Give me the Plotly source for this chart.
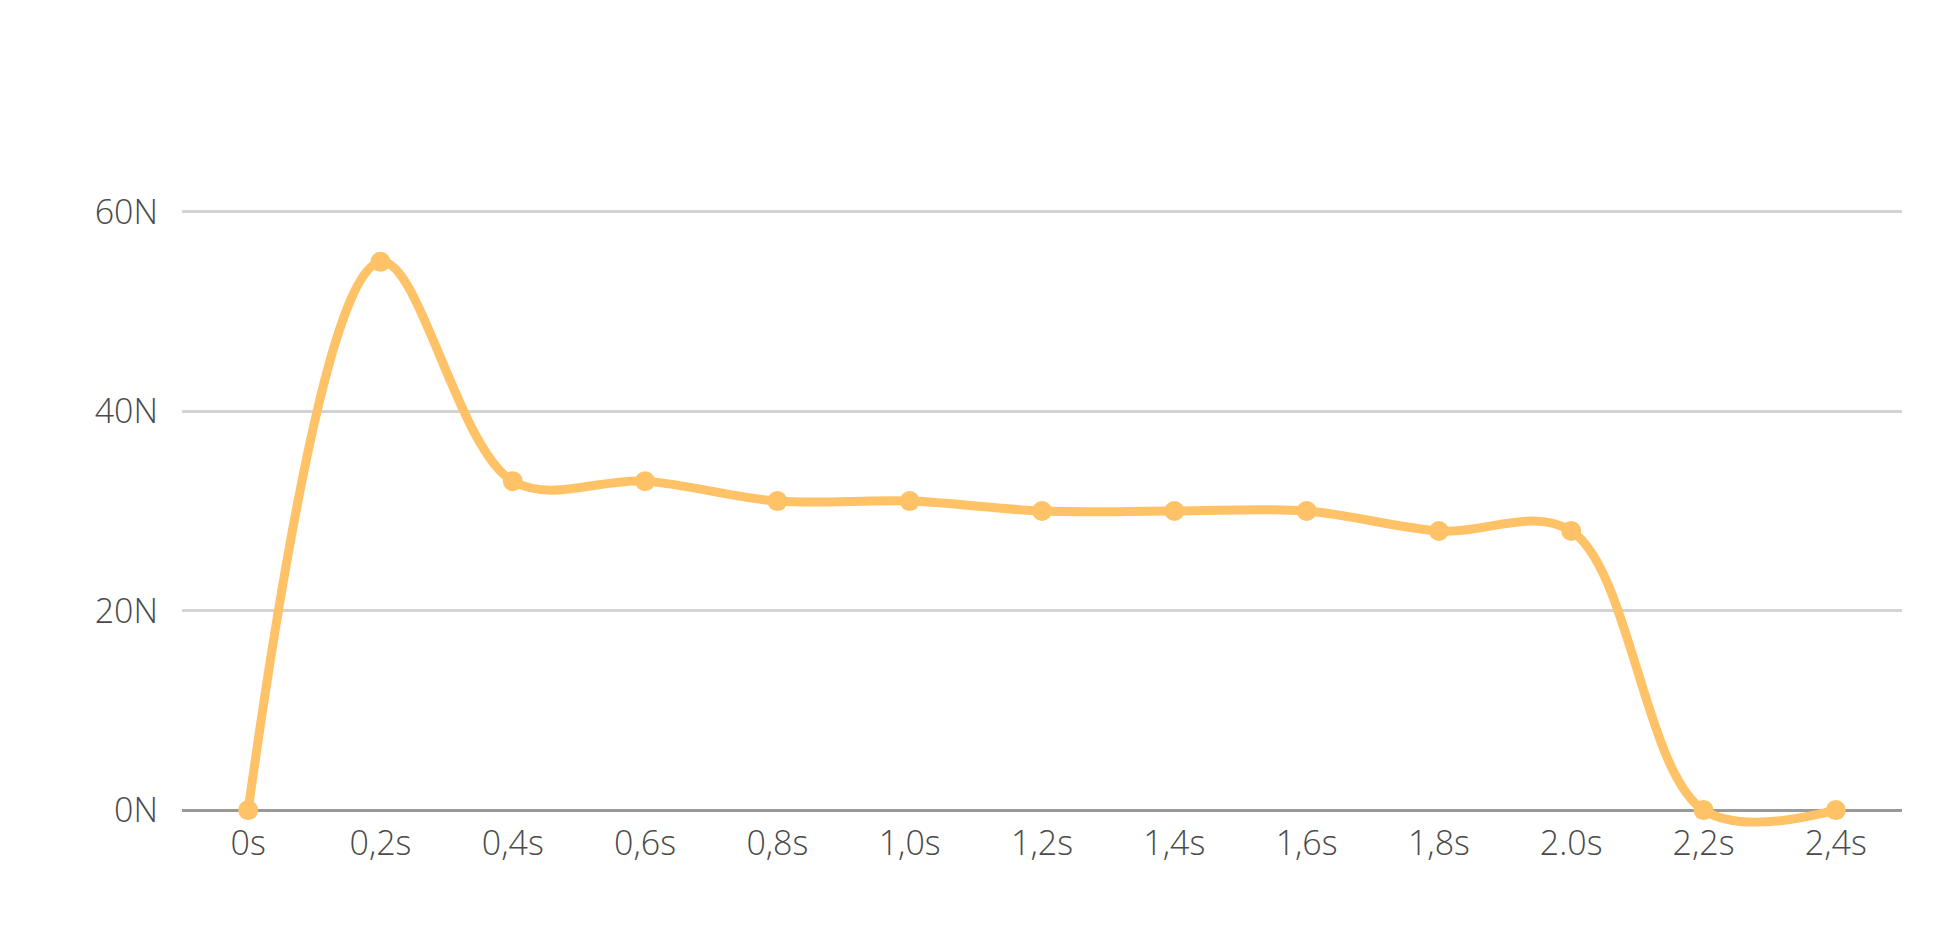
import plotly.graph_objects as go

categories = ["0s", "0,2s", "0,4s", "0,6s", "0,8s", "1,0s", "1,2s", "1,4s",
              "1,6s", "1,8s", "2.0s", "2,2s", "2,4s"]
force_n = [0, 55, 33, 33, 31, 31, 30, 30, 30, 28, 28, 0, 0]
y_ticks = [0, 20, 40, 60]
y_tick_labels = ["0N", "20N", "40N", "60N"]

line_color = "#FFC266"
text_font = dict(family="Open Sans", size=34, color="#4A4A4A", weight=300)

fig = go.Figure()
fig.add_trace(go.Scatter(
    x=categories, y=force_n, mode="lines+markers",
    line=dict(color=line_color, width=9, shape="spline", smoothing=1),
    marker=dict(color=line_color, size=20),
    cliponaxis=False, hoverinfo="skip", showlegend=False,
))

fig.update_layout(
    width=1957, height=931,
    margin=dict(l=174, r=63, t=199, b=104),
    plot_bgcolor="white", paper_bgcolor="white",
    font=text_font,
    xaxis=dict(
        type="category", range=[-0.5, 12.5], showgrid=False, zeroline=False,
        showline=False, ticks="", tickfont=text_font, ticklabelstandoff=-15,
    ),
    yaxis=dict(
        range=[-2.5, 60.5], tickvals=y_ticks, ticktext=y_tick_labels,
        showgrid=True, gridcolor="#D3D3D3", gridwidth=3,
        zeroline=True, zerolinecolor="#999999", zerolinewidth=3,
        showline=False, ticks="", tickfont=text_font, ticklabelstandoff=23,
    ),
)

fig.write_html("out.html")
